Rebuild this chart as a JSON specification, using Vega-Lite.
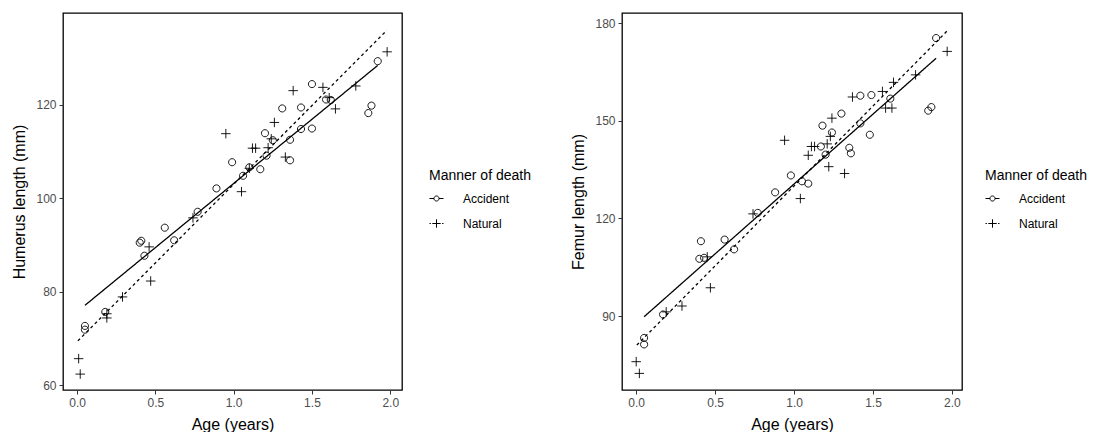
{
  "$schema": "https://vega.github.io/schema/vega-lite/v6.json",
  "background": "white",
  "padding": {"left": 11, "top": 12, "right": 5, "bottom": 5},
  "spacing": 38,
  "config": {
    "font": "Liberation Sans",
    "view": {"stroke": "black", "strokeWidth": 1.3},
    "axis": {
      "grid": false, "domain": false, "tickColor": "#333333", "tickSize": 4, "tickWidth": 1,
      "labelFont": "Liberation Sans", "labelFontSize": 12, "labelColor": "#4d4d4d", "labelPadding": 3,
      "titleFont": "Liberation Sans", "titleFontSize": 16, "titleFontWeight": "normal", "titleColor": "black", "titlePadding": 8
    },
    "legend": {
      "titleFont": "Liberation Sans", "titleFontSize": 14, "titleFontWeight": "normal", "titleColor": "black",
      "labelFont": "Liberation Sans", "labelFontSize": 12, "labelColor": "black"
    }
  },
  "datasets": {
    "points": [
      {"bone": "Humerus", "manner": "Accident", "age": 1.92, "length": 129.3},
      {"bone": "Humerus", "manner": "Accident", "age": 1.50, "length": 124.4},
      {"bone": "Humerus", "manner": "Accident", "age": 1.59, "length": 121.1},
      {"bone": "Humerus", "manner": "Accident", "age": 1.62, "length": 121.0},
      {"bone": "Humerus", "manner": "Accident", "age": 1.88, "length": 119.8},
      {"bone": "Humerus", "manner": "Accident", "age": 1.86, "length": 118.2},
      {"bone": "Humerus", "manner": "Accident", "age": 1.31, "length": 119.2},
      {"bone": "Humerus", "manner": "Accident", "age": 1.43, "length": 119.4},
      {"bone": "Humerus", "manner": "Accident", "age": 1.43, "length": 114.8},
      {"bone": "Humerus", "manner": "Accident", "age": 1.50, "length": 114.9},
      {"bone": "Humerus", "manner": "Accident", "age": 1.20, "length": 113.9},
      {"bone": "Humerus", "manner": "Accident", "age": 1.25, "length": 112.4},
      {"bone": "Humerus", "manner": "Accident", "age": 1.36, "length": 112.5},
      {"bone": "Humerus", "manner": "Accident", "age": 1.21, "length": 109.1},
      {"bone": "Humerus", "manner": "Accident", "age": 1.36, "length": 108.1},
      {"bone": "Humerus", "manner": "Accident", "age": 0.99, "length": 107.7},
      {"bone": "Humerus", "manner": "Accident", "age": 1.10, "length": 106.6},
      {"bone": "Humerus", "manner": "Accident", "age": 1.17, "length": 106.2},
      {"bone": "Humerus", "manner": "Accident", "age": 1.06, "length": 104.8},
      {"bone": "Humerus", "manner": "Accident", "age": 0.89, "length": 102.1},
      {"bone": "Humerus", "manner": "Accident", "age": 0.77, "length": 97.1},
      {"bone": "Humerus", "manner": "Accident", "age": 0.56, "length": 93.7},
      {"bone": "Humerus", "manner": "Accident", "age": 0.41, "length": 90.9},
      {"bone": "Humerus", "manner": "Accident", "age": 0.40, "length": 90.5},
      {"bone": "Humerus", "manner": "Accident", "age": 0.62, "length": 91.0},
      {"bone": "Humerus", "manner": "Accident", "age": 0.43, "length": 87.7},
      {"bone": "Humerus", "manner": "Accident", "age": 0.18, "length": 75.7},
      {"bone": "Humerus", "manner": "Accident", "age": 0.05, "length": 72.7},
      {"bone": "Humerus", "manner": "Accident", "age": 0.05, "length": 71.9},
      {"bone": "Humerus", "manner": "Natural", "age": 1.98, "length": 131.3},
      {"bone": "Humerus", "manner": "Natural", "age": 1.78, "length": 124.0},
      {"bone": "Humerus", "manner": "Natural", "age": 1.57, "length": 123.7},
      {"bone": "Humerus", "manner": "Natural", "age": 1.38, "length": 123.0},
      {"bone": "Humerus", "manner": "Natural", "age": 1.61, "length": 121.5},
      {"bone": "Humerus", "manner": "Natural", "age": 1.65, "length": 119.1},
      {"bone": "Humerus", "manner": "Natural", "age": 1.26, "length": 116.2},
      {"bone": "Humerus", "manner": "Natural", "age": 0.95, "length": 113.8},
      {"bone": "Humerus", "manner": "Natural", "age": 1.12, "length": 110.7},
      {"bone": "Humerus", "manner": "Natural", "age": 1.14, "length": 110.7},
      {"bone": "Humerus", "manner": "Natural", "age": 1.22, "length": 110.8},
      {"bone": "Humerus", "manner": "Natural", "age": 1.24, "length": 112.7},
      {"bone": "Humerus", "manner": "Natural", "age": 1.33, "length": 108.8},
      {"bone": "Humerus", "manner": "Natural", "age": 1.05, "length": 101.4},
      {"bone": "Humerus", "manner": "Natural", "age": 1.10, "length": 106.4},
      {"bone": "Humerus", "manner": "Natural", "age": 0.74, "length": 95.8},
      {"bone": "Humerus", "manner": "Natural", "age": 0.46, "length": 89.6},
      {"bone": "Humerus", "manner": "Natural", "age": 0.47, "length": 82.3},
      {"bone": "Humerus", "manner": "Natural", "age": 0.29, "length": 78.9},
      {"bone": "Humerus", "manner": "Natural", "age": 0.19, "length": 75.3},
      {"bone": "Humerus", "manner": "Natural", "age": 0.19, "length": 74.4},
      {"bone": "Humerus", "manner": "Natural", "age": 0.01, "length": 65.7},
      {"bone": "Humerus", "manner": "Natural", "age": 0.02, "length": 62.4},
      {"bone": "Femur", "manner": "Accident", "age": 1.90, "length": 175.4},
      {"bone": "Femur", "manner": "Accident", "age": 1.49, "length": 157.9},
      {"bone": "Femur", "manner": "Accident", "age": 1.42, "length": 157.7},
      {"bone": "Femur", "manner": "Accident", "age": 1.61, "length": 156.8},
      {"bone": "Femur", "manner": "Accident", "age": 1.30, "length": 152.2},
      {"bone": "Femur", "manner": "Accident", "age": 1.18, "length": 148.5},
      {"bone": "Femur", "manner": "Accident", "age": 1.24, "length": 146.4},
      {"bone": "Femur", "manner": "Accident", "age": 1.42, "length": 149.2},
      {"bone": "Femur", "manner": "Accident", "age": 1.48, "length": 145.7},
      {"bone": "Femur", "manner": "Accident", "age": 1.87, "length": 154.2},
      {"bone": "Femur", "manner": "Accident", "age": 1.85, "length": 153.1},
      {"bone": "Femur", "manner": "Accident", "age": 1.17, "length": 142.1},
      {"bone": "Femur", "manner": "Accident", "age": 1.20, "length": 139.6},
      {"bone": "Femur", "manner": "Accident", "age": 1.35, "length": 141.7},
      {"bone": "Femur", "manner": "Accident", "age": 1.36, "length": 140.0},
      {"bone": "Femur", "manner": "Accident", "age": 0.98, "length": 133.2},
      {"bone": "Femur", "manner": "Accident", "age": 1.05, "length": 131.4},
      {"bone": "Femur", "manner": "Accident", "age": 1.09, "length": 130.7},
      {"bone": "Femur", "manner": "Accident", "age": 0.88, "length": 128.0},
      {"bone": "Femur", "manner": "Accident", "age": 0.77, "length": 121.7},
      {"bone": "Femur", "manner": "Accident", "age": 0.56, "length": 113.5},
      {"bone": "Femur", "manner": "Accident", "age": 0.41, "length": 113.0},
      {"bone": "Femur", "manner": "Accident", "age": 0.62, "length": 110.5},
      {"bone": "Femur", "manner": "Accident", "age": 0.40, "length": 107.6},
      {"bone": "Femur", "manner": "Accident", "age": 0.43, "length": 107.9},
      {"bone": "Femur", "manner": "Accident", "age": 0.17, "length": 90.5},
      {"bone": "Femur", "manner": "Accident", "age": 0.05, "length": 83.3},
      {"bone": "Femur", "manner": "Accident", "age": 0.05, "length": 81.3},
      {"bone": "Femur", "manner": "Natural", "age": 1.97, "length": 171.3},
      {"bone": "Femur", "manner": "Natural", "age": 1.77, "length": 164.1},
      {"bone": "Femur", "manner": "Natural", "age": 1.63, "length": 161.8},
      {"bone": "Femur", "manner": "Natural", "age": 1.56, "length": 159.0},
      {"bone": "Femur", "manner": "Natural", "age": 1.37, "length": 157.3},
      {"bone": "Femur", "manner": "Natural", "age": 1.58, "length": 153.9},
      {"bone": "Femur", "manner": "Natural", "age": 1.62, "length": 153.9},
      {"bone": "Femur", "manner": "Natural", "age": 1.24, "length": 150.8},
      {"bone": "Femur", "manner": "Natural", "age": 0.94, "length": 144.0},
      {"bone": "Femur", "manner": "Natural", "age": 1.23, "length": 145.2},
      {"bone": "Femur", "manner": "Natural", "age": 1.11, "length": 142.1},
      {"bone": "Femur", "manner": "Natural", "age": 1.13, "length": 142.1},
      {"bone": "Femur", "manner": "Natural", "age": 1.21, "length": 142.9},
      {"bone": "Femur", "manner": "Natural", "age": 1.09, "length": 139.4},
      {"bone": "Femur", "manner": "Natural", "age": 1.22, "length": 135.9},
      {"bone": "Femur", "manner": "Natural", "age": 1.32, "length": 133.8},
      {"bone": "Femur", "manner": "Natural", "age": 1.04, "length": 126.1},
      {"bone": "Femur", "manner": "Natural", "age": 0.74, "length": 121.4},
      {"bone": "Femur", "manner": "Natural", "age": 0.45, "length": 108.2},
      {"bone": "Femur", "manner": "Natural", "age": 0.47, "length": 98.7},
      {"bone": "Femur", "manner": "Natural", "age": 0.29, "length": 93.1},
      {"bone": "Femur", "manner": "Natural", "age": 0.19, "length": 91.3},
      {"bone": "Femur", "manner": "Natural", "age": 0.00, "length": 76.0},
      {"bone": "Femur", "manner": "Natural", "age": 0.02, "length": 72.4}
    ],
    "lines": [
      {"bone": "Humerus", "manner": "Accident", "age": 0.05, "length": 77.1},
      {"bone": "Humerus", "manner": "Accident", "age": 1.92, "length": 128.4},
      {"bone": "Humerus", "manner": "Natural", "age": 0.005, "length": 69.5},
      {"bone": "Humerus", "manner": "Natural", "age": 1.978, "length": 135.9},
      {"bone": "Femur", "manner": "Accident", "age": 0.05, "length": 89.8},
      {"bone": "Femur", "manner": "Accident", "age": 1.90, "length": 169.2},
      {"bone": "Femur", "manner": "Natural", "age": 0.004, "length": 81.1},
      {"bone": "Femur", "manner": "Natural", "age": 1.97, "length": 177.6}
    ]
  },
  "resolve": {"legend": {"shape": "independent"}, "scale": {"y": "independent"}},
  "hconcat": [
    {
      "width": 339,
      "height": 377,
      "resolve": {"scale": {"shape": "independent"}, "legend": {"shape": "independent"}},
      "layer": [
        {
          "data": {"name": "lines"},
          "transform": [{"filter": "datum.bone === 'Humerus'"}],
          "mark": {"type": "line", "color": "black", "strokeWidth": 1.3},
          "encoding": {
            "x": {"field": "age", "type": "quantitative"},
            "y": {"field": "length", "type": "quantitative"},
            "detail": {"field": "manner"},
            "strokeDash": {"field": "manner", "type": "nominal", "scale": {"domain": ["Accident", "Natural"], "range": [[1, 0], [3, 3]]}, "legend": null}
          }
        },
        {
          "data": {"name": "points"},
          "transform": [{"filter": "datum.bone === 'Humerus'"}],
          "mark": {"type": "point", "filled": false, "stroke": "black", "strokeWidth": 0.9, "size": 90, "opacity": 1},
          "encoding": {
            "x": {"field": "age", "type": "quantitative", "title": "Age (years)",
                  "scale": {"domain": [-0.09, 2.075], "nice": false, "zero": false},
                  "axis": {"values": [0, 0.5, 1, 1.5, 2], "format": ".1f"}},
            "y": {"field": "length", "type": "quantitative", "title": "Humerus length (mm)",
                  "scale": {"domain": [59.0, 139.6], "nice": false, "zero": false},
                  "axis": {"values": [60, 80, 100, 120]}},
            "shape": {"field": "manner", "type": "nominal", "legend": null,
              "scale": {"domain": ["Accident", "Natural"], "range": ["M-0.75,0A0.75,0.75,0,1,0,0.75,0A0.75,0.75,0,1,0,-0.75,0Z", "M-1,0L1,0M0,-1L0,1"]}}
          }
        },
        {
          "data": {"name": "points"},
          "transform": [{"filter": "datum.bone === 'Humerus'"}],
          "mark": {"type": "point", "filled": false, "stroke": "black", "strokeWidth": 1, "size": 196, "opacity": 0},
          "encoding": {
            "x": {"field": "age", "type": "quantitative"},
            "y": {"field": "length", "type": "quantitative"},
            "shape": {"field": "manner", "type": "nominal", "title": "Manner of death",
              "scale": {"domain": ["Accident", "Natural"], "range": ["M-1,0L-0.36,0M-0.36,0A0.36,0.36,0,1,0,0.36,0A0.36,0.36,0,1,0,-0.36,0M0.36,0L1,0", "M-1,0L-0.8,0M-0.6,0L0.6,0M0,-0.6L0,0.6M0.8,0L1,0"]},
              "legend": {
                "orient": "none", "legendX": 366, "legendY": 156,
                "symbolSize": 196, "symbolStrokeColor": "black", "symbolStrokeWidth": 1, "symbolFillColor": "transparent", "symbolOpacity": 1,
                "rowPadding": 11, "labelOffset": 19, "titlePadding": 8
              }}
          }
        }
      ]
    },
    {
      "width": 340,
      "height": 377,
      "resolve": {"scale": {"shape": "independent"}, "legend": {"shape": "independent"}},
      "layer": [
        {
          "data": {"name": "lines"},
          "transform": [{"filter": "datum.bone === 'Femur'"}],
          "mark": {"type": "line", "color": "black", "strokeWidth": 1.3},
          "encoding": {
            "x": {"field": "age", "type": "quantitative"},
            "y": {"field": "length", "type": "quantitative"},
            "detail": {"field": "manner"},
            "strokeDash": {"field": "manner", "type": "nominal", "scale": {"domain": ["Accident", "Natural"], "range": [[1, 0], [3, 3]]}, "legend": null}
          }
        },
        {
          "data": {"name": "points"},
          "transform": [{"filter": "datum.bone === 'Femur'"}],
          "mark": {"type": "point", "filled": false, "stroke": "black", "strokeWidth": 0.9, "size": 90, "opacity": 1},
          "encoding": {
            "x": {"field": "age", "type": "quantitative", "title": "Age (years)",
                  "scale": {"domain": [-0.09, 2.064], "nice": false, "zero": false},
                  "axis": {"values": [0, 0.5, 1, 1.5, 2], "format": ".1f"}},
            "y": {"field": "length", "type": "quantitative", "title": "Femur length (mm)",
                  "scale": {"domain": [67.3, 183.1], "nice": false, "zero": false},
                  "axis": {"values": [90, 120, 150, 180]}},
            "shape": {"field": "manner", "type": "nominal", "legend": null,
              "scale": {"domain": ["Accident", "Natural"], "range": ["M-0.75,0A0.75,0.75,0,1,0,0.75,0A0.75,0.75,0,1,0,-0.75,0Z", "M-1,0L1,0M0,-1L0,1"]}}
          }
        },
        {
          "data": {"name": "points"},
          "transform": [{"filter": "datum.bone === 'Femur'"}],
          "mark": {"type": "point", "filled": false, "stroke": "black", "strokeWidth": 1, "size": 196, "opacity": 0},
          "encoding": {
            "x": {"field": "age", "type": "quantitative"},
            "y": {"field": "length", "type": "quantitative"},
            "shape": {"field": "manner", "type": "nominal", "title": "Manner of death",
              "scale": {"domain": ["Accident", "Natural"], "range": ["M-1,0L-0.36,0M-0.36,0A0.36,0.36,0,1,0,0.36,0A0.36,0.36,0,1,0,-0.36,0M0.36,0L1,0", "M-1,0L-0.8,0M-0.6,0L0.6,0M0,-0.6L0,0.6M0.8,0L1,0"]},
              "legend": {
                "orient": "none", "legendX": 363, "legendY": 156,
                "symbolSize": 196, "symbolStrokeColor": "black", "symbolStrokeWidth": 1, "symbolFillColor": "transparent", "symbolOpacity": 1,
                "rowPadding": 11, "labelOffset": 19, "titlePadding": 8
              }}
          }
        }
      ]
    }
  ]
}
